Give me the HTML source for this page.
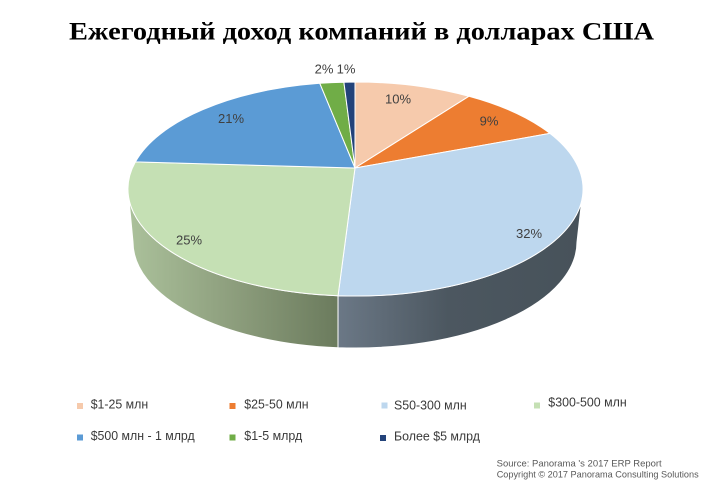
<!DOCTYPE html>
<html>
<head>
<meta charset="utf-8">
<style>
  html, body { margin: 0; padding: 0; background: #ffffff; }
  svg { display: block; }
</style>
</head>
<body>
<svg width="722" height="490" viewBox="0 0 722 490" xmlns="http://www.w3.org/2000/svg">
  <defs>
    <linearGradient id="g25" gradientUnits="userSpaceOnUse" x1="128" y1="0" x2="338" y2="0">
      <stop offset="0" stop-color="#abc19b"/>
      <stop offset="0.5" stop-color="#8d9e7d"/>
      <stop offset="1" stop-color="#6b7b5d"/>
    </linearGradient>
    <linearGradient id="g32" gradientUnits="userSpaceOnUse" x1="338" y1="0" x2="583" y2="0">
      <stop offset="0" stop-color="#6b7886"/>
      <stop offset="0.45" stop-color="#4c5760"/>
      <stop offset="1" stop-color="#47525a"/>
    </linearGradient>
  </defs>
  <rect width="722" height="490" fill="#ffffff"/>

  <text x="69" y="39.5" font-family="Liberation Serif, serif" font-weight="bold" font-size="25" fill="#000" textLength="585" lengthAdjust="spacingAndGlyphs">Ежегодный доход компаний в долларах США</text>

  <!-- sides -->
  <g stroke="#ffffff" stroke-width="1" stroke-linejoin="round">
    <path d="M128,189 A227.5,107 0 0 0 338.05,295.7 L338,347.7 A222,106 0 0 1 133,242 Z" fill="url(#g25)"/>
    <path d="M338.05,295.7 A227.5,107 0 0 0 583,189 L577,242 A222,106 0 0 1 338,347.7 Z" fill="url(#g32)"/>
  </g>

  <!-- top face -->
  <g stroke="#ffffff" stroke-width="1" stroke-linejoin="round">
    <path d="M355,168 L355,82 A227.5,107 0 0 1 468.9,96.3 Z" fill="#f6caac"/>
    <path d="M355,168 L468.9,96.3 A227.5,107 0 0 1 549.9,133.4 Z" fill="#ed7d31"/>
    <path d="M355,168 L549.9,133.4 A227.5,107 0 0 1 338.05,295.7 Z" fill="#bdd7ee"/>
    <path d="M355,168 L338.05,295.7 A227.5,107 0 0 1 135.4,161.9 Z" fill="#c5e0b4"/>
    <path d="M355,168 L135.4,161.9 A227.5,107 0 0 1 319.8,83.3 Z" fill="#5b9bd5"/>
    <path d="M355,168 L319.8,83.3 A227.5,107 0 0 1 343.9,82.2 Z" fill="#70ad47"/>
    <path d="M355,168 L343.9,82.2 A227.5,107 0 0 1 355,82 Z" fill="#23437a"/>
  </g>

  <!-- data labels -->
  <g font-family="Liberation Sans, sans-serif" font-size="13" fill="#404040" text-anchor="middle">
    <text x="398" y="103.7">10%</text>
    <text x="489" y="125.7">9%</text>
    <text x="529" y="238">32%</text>
    <text x="189" y="244.7">25%</text>
    <text x="231" y="123">21%</text>
    <text x="324" y="73.7">2%</text>
    <text x="346" y="73.7">1%</text>
  </g>

  <!-- legend markers -->
  <rect x="77" y="403" width="6" height="6" fill="#f6caac"/>
  <rect x="229.5" y="403" width="6" height="6" fill="#ed7d31"/>
  <rect x="381.5" y="402.5" width="6" height="6" fill="#bdd7ee"/>
  <rect x="534" y="402.5" width="6" height="6" fill="#c5e0b4"/>
  <rect x="77" y="434.5" width="6" height="6" fill="#5b9bd5"/>
  <rect x="229.5" y="434.5" width="6" height="6" fill="#70ad47"/>
  <rect x="380" y="435" width="6" height="6" fill="#23437a"/>

  <!-- legend texts -->
  <g font-family="Liberation Sans, sans-serif" font-size="12.5" fill="#3a3a3a">
    <text x="90.7" y="408.5" textLength="57.5" lengthAdjust="spacingAndGlyphs">$1-25 млн</text>
    <text x="244.3" y="408.5" textLength="64.3" lengthAdjust="spacingAndGlyphs">$25-50 млн</text>
    <text x="394" y="409.3" textLength="72.7" lengthAdjust="spacingAndGlyphs">S50-300 млн</text>
    <text x="548.3" y="406.7" textLength="78.4" lengthAdjust="spacingAndGlyphs">$300-500 млн</text>
    <text x="90.7" y="440" textLength="104" lengthAdjust="spacingAndGlyphs">$500 млн - 1 млрд</text>
    <text x="244.3" y="440" textLength="58" lengthAdjust="spacingAndGlyphs">$1-5 млрд</text>
    <text x="394" y="440.3" textLength="86" lengthAdjust="spacingAndGlyphs">Более $5 млрд</text>
  </g>

  <!-- source -->
  <g font-family="Liberation Sans, sans-serif" font-size="9.3" fill="#595959">
    <text x="496.7" y="466.5" textLength="165" lengthAdjust="spacingAndGlyphs">Source: Panorama 's 2017 ERP Report</text>
    <text x="496.7" y="477.3" textLength="202" lengthAdjust="spacingAndGlyphs">Copyright © 2017 Panorama Consulting Solutions</text>
  </g>
</svg>
</body>
</html>
